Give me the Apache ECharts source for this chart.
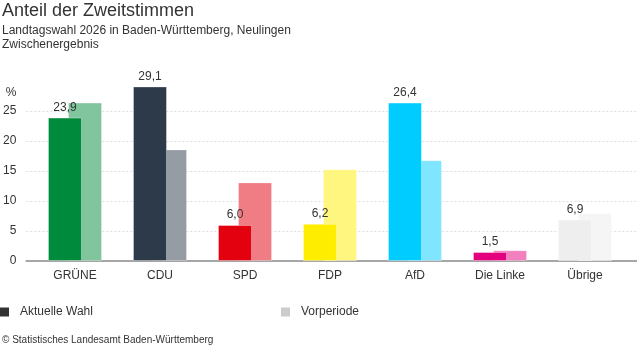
<html>
<head>
<meta charset="utf-8">
<script type="text/javascript" src="https://cdn.jsdelivr.net/npm/echarts@6/dist/echarts.min.js"></script>
<style type="text/css">
	body { margin: 0; background: #fff; }
	#chart { width: 637px; height: 352px; }
</style>
<title>Anteil der Zweitstimmen</title>
</head>
<body>
	<div id="chart"></div>

	<script type="text/javascript">
// data
var parties = ['GRÜNE', 'CDU', 'SPD', 'FDP', 'AfD', 'Die Linke', 'Übrige'];
var current = [23.9, 29.1, 6.0, 6.2, 26.4, 1.5, 6.9];
var previous = [26.4, 18.6, 13.1, 15.3, 16.8, 1.8, 8.0];
var yTicks = [0, 5, 10, 15, 20, 25];

var colorsNow = ['#008a3c', '#2c3a4a', '#e3000f', '#ffed00', '#00ccff', '#e5007d', '#eeeeee'];
var colorsPrev = ['#80c59e', '#959ca4', '#f07c84', '#fff67f', '#80e5ff', '#f27fbe', '#f5f5f5'];

var font = '"Liberation Sans", Arial, sans-serif';

function fmt(v) {
	return v.toFixed(1).replace('.', ',');
}

var nowData = current.map(function(v, i) {
	return { value: v, itemStyle: { color: colorsNow[i] } };
});
var prevData = previous.map(function(v, i) {
	return { value: v, itemStyle: { color: colorsPrev[i] } };
});

var option = {
	animation: false,
	textStyle: { fontFamily: font },
	title: {
		text: 'Anteil der Zweitstimmen',
		subtext: 'Landtagswahl 2026 in Baden-Württemberg, Neulingen\nZwischenergebnis',
		left: 0,
		top: 2,
		padding: [0, 0, 0, 2],
		itemGap: 4,
		textStyle: { fontSize: 18, fontWeight: 'normal', color: '#333', fontFamily: font },
		subtextStyle: { fontSize: 12, color: '#333', lineHeight: 14, fontFamily: font }
	},
	legend: [
		{
			left: 0, top: 306,
			padding: 0,
			itemWidth: 9, itemHeight: 9,
			icon: 'rect',
			selectedMode: false,
			textStyle: { fontSize: 12, color: '#333', padding: [0, 0, 0, 6], fontFamily: font },
			data: [{ name: 'Aktuelle Wahl', itemStyle: { color: '#333333', borderWidth: 0 } }]
		},
		{
			left: 281, top: 306,
			padding: 0,
			itemWidth: 9, itemHeight: 9,
			icon: 'rect',
			selectedMode: false,
			textStyle: { fontSize: 12, color: '#333', padding: [0, 0, 0, 6], fontFamily: font },
			data: [{ name: 'Vorperiode', itemStyle: { color: '#cccccc', borderWidth: 0 } }]
		}
	],
	grid: [
		{ left: 32.5, right: 9.5, top: 111, bottom: 91 },
		{ left: 22, right: 0, top: 111, bottom: 91 }
	],
	xAxis: [
		{
			type: 'category',
			gridIndex: 0,
			data: parties,
			axisLine: { show: false },
			axisTick: { show: false },
			axisLabel: { color: '#333', fontSize: 12, margin: 9, fontFamily: font }
		},
		{
			type: 'category',
			gridIndex: 1,
			data: [''],
			axisLine: { show: true, lineStyle: { color: '#a6a6a6', width: 2 } },
			axisTick: { show: false },
			axisLabel: { show: false }
		}
	],
	yAxis: [
		{
			type: 'value',
			gridIndex: 0,
			min: 0, max: 25, interval: 5,
			show: false
		},
		{
			type: 'value',
			gridIndex: 1,
			min: yTicks[0], max: yTicks[yTicks.length - 1], interval: 5,
			name: '%',
			nameLocation: 'end',
			nameGap: 12,
			nameTextStyle: { color: '#333', fontSize: 12, align: 'right', padding: [0, 10, 0, 0], fontFamily: font },
			axisLine: { show: false },
			axisTick: { show: false },
			axisLabel: { color: '#333', fontSize: 12, margin: 10, fontFamily: font },
			splitLine: {
				show: true,
				lineStyle: { color: '#dedede', type: [2, 2], width: 1 }
			}
		}
	],
	series: [
		{
			name: 'Aktuelle Wahl',
			type: 'bar',
			xAxisIndex: 0,
			yAxisIndex: 0,
			barWidth: 34,
			barGap: '-41%',
			clip: false,
			z: 3,
			itemStyle: { borderColor: 'rgba(255,255,255,0.35)', borderWidth: 1 },
			label: {
				show: true,
				position: 'top',
				distance: 4,
				color: '#333',
				fontSize: 12,
				fontFamily: font,
				formatter: function(p) { return fmt(p.value); }
			},
			data: nowData
		},
		{
			name: 'Vorperiode',
			type: 'bar',
			xAxisIndex: 0,
			yAxisIndex: 0,
			barWidth: 34,
			clip: false,
			z: 2,
			itemStyle: { borderColor: 'rgba(255,255,255,0.3)', borderWidth: 1 },
			data: prevData
		}
	],
	graphic: [
		{
			type: 'text',
			left: 2,
			top: 335,
			style: {
				text: '© Statistisches Landesamt Baden-Württemberg',
				fill: '#333',
				font: '10px ' + font
			}
		}
	]
};

var myChart = echarts.init(document.getElementById('chart'));
myChart.setOption(option);
</script>
</body>
</html>
